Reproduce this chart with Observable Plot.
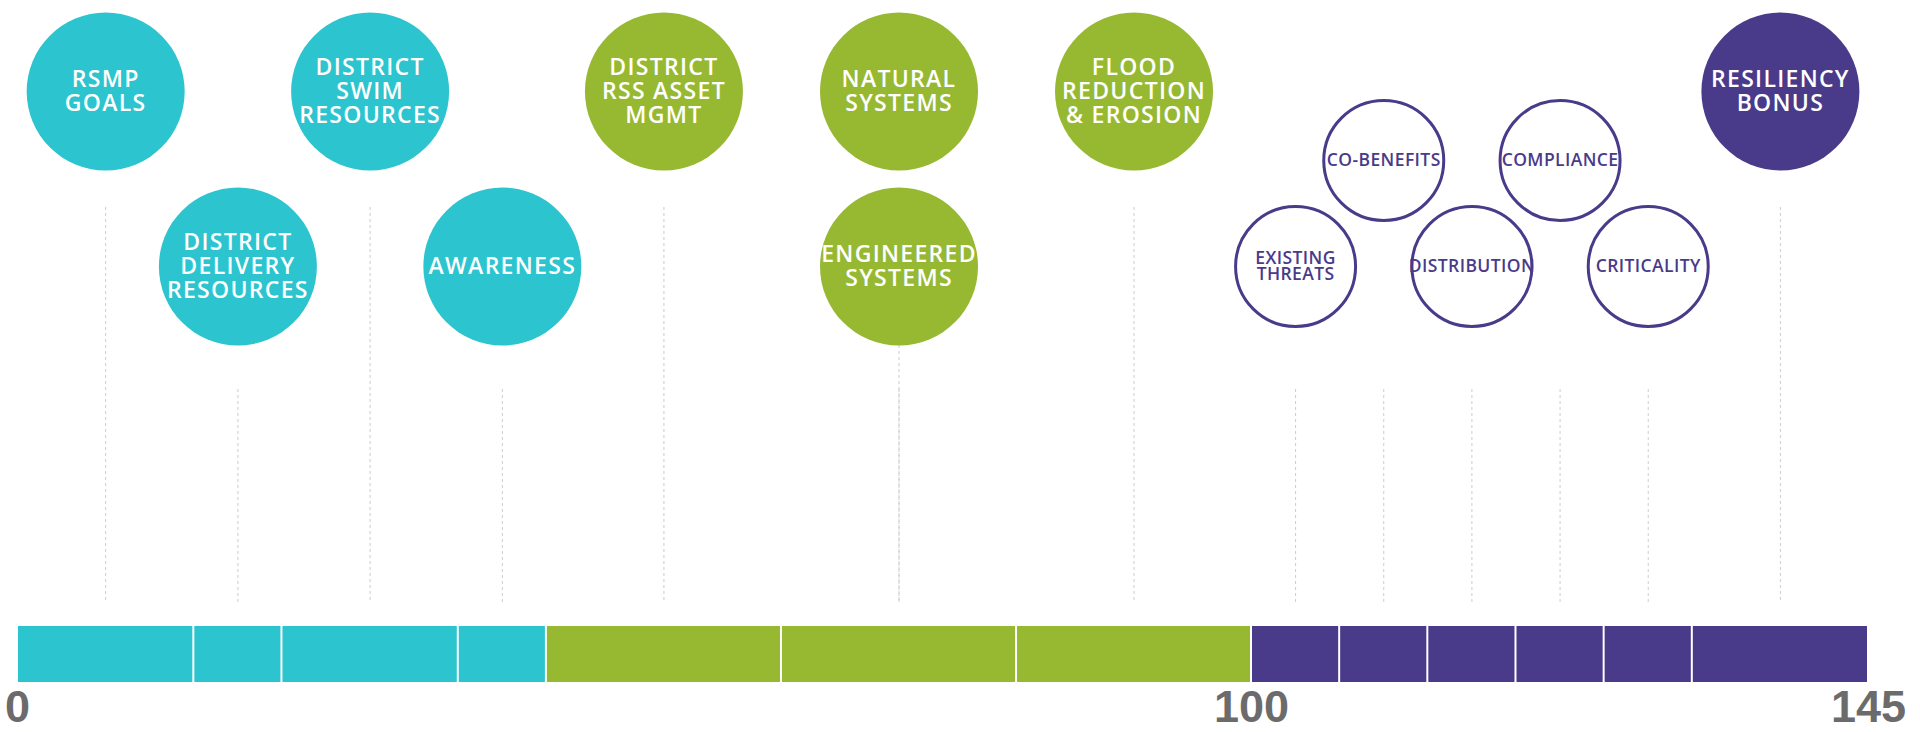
<!DOCTYPE html>
<html>
<head>
<meta charset="utf-8">
<script src="https://cdn.jsdelivr.net/npm/d3@7"></script>
<script src="https://cdn.jsdelivr.net/npm/@observablehq/plot@0.6"></script>
<style>
  html, body { margin: 0; padding: 0; background: #ffffff; }
  #chart svg { display: block; }
</style>
</head>
<body>
<div id="chart"></div>
<script>
// ---- data ----
const groups = ["Group A", "Group B", "Group C"];
const segmentGroup = ["Group A", "Group A", "Group A", "Group A",
  "Group B", "Group B", "Group B",
  "Group C", "Group C", "Group C", "Group C", "Group C", "Group C"];
const segmentPoints = [14.29, 7.14, 14.29, 7.14,
  19.05, 19.05, 19.04,
  6.43, 6.43, 6.43, 6.43, 6.43, 12.85];
const categories = [
  "RSMP\nGOALS", "DISTRICT\nDELIVERY\nRESOURCES", "DISTRICT\nSWIM\nRESOURCES", "AWARENESS",
  "DISTRICT\nRSS ASSET\nMGMT", "NATURAL\nSYSTEMS", "ENGINEERED\nSYSTEMS", "FLOOD\nREDUCTION\n& EROSION",
  "EXISTING\nTHREATS", "CO-BENEFITS", "DISTRIBUTION", "COMPLIANCE", "CRITICALITY", "RESILIENCY\nBONUS"
];
const categorySegment = [0, 1, 2, 3, 4, 5, 5, 6, 7, 8, 9, 10, 11, 12];
const categoryRow = ["upper", "lower", "upper", "lower", "upper", "upper", "lower", "upper",
  "lower", "middle", "lower", "middle", "lower", "upper"];
const categoryKind = ["component", "component", "component", "component", "component", "component", "component", "component",
  "factor", "factor", "factor", "factor", "factor", "component"];
const xTicks = [0, 100, 145];

// ---- build tables ----
let acc = 0;
const segments = segmentPoints.map((v, i) => {
  const s = {start: acc, end: acc + v, group: segmentGroup[i]};
  acc += v;
  return s;
});
const cats = categories.map((name, i) => {
  const seg = segments[categorySegment[i]];
  return {name, mid: (seg.start + seg.end) / 2, group: seg.group, row: categoryRow[i], kind: categoryKind[i]};
});

// ---- layout / style ----
const W = 1920, H = 732;
const palette = ["#2cc4ce", "#97b932", "#4a3a8a"];
const purple = "#4a3a8a";
const rowY = {upper: 91, middle: 160, lower: 266};
const R_MAIN = 79, R_FACTOR = 60;
const BAR_TOP = 626, BAR_BOTTOM = 682;
const STEM_END = 602;
const stemStart = d => d.row === "upper" ? 207 : 389;
const font = "'Open Sans', 'Noto Sans', sans-serif";

const main = cats.filter(d => d.kind === "component");
const factors = cats.filter(d => d.kind === "factor");

const chart = Plot.plot({
  width: W,
  height: H,
  marginTop: 0, marginLeft: 0, marginRight: 0, marginBottom: 42,
  x: {type: "linear", domain: [0, 100, 145], range: [17, 1251, 1868]},
  y: {type: "linear", domain: [0, 690], range: [0, 690], axis: null},
  color: {type: "ordinal", domain: groups, range: palette},
  style: {background: "#ffffff"},
  marks: [
    Plot.ruleX(cats, {x: "mid", y1: stemStart, y2: STEM_END, stroke: "#cccccc", strokeWidth: 1, strokeDasharray: "3,3"}),
    Plot.rectX(segments, {x1: "start", x2: "end", y1: BAR_TOP, y2: BAR_BOTTOM, fill: "group", insetLeft: 1, insetRight: 1}),
    Plot.dot(main, {x: "mid", y: d => rowY[d.row], r: R_MAIN, fill: "group", stroke: null}),
    Plot.dot(factors, {x: "mid", y: d => rowY[d.row], r: R_FACTOR, fill: "white", stroke: purple, strokeWidth: 3}),
    Plot.text(main, {x: "mid", y: d => rowY[d.row], text: "name", fill: "white", fontSize: 23, fontWeight: 600,
      lineHeight: 1.04, fontFamily: font}),
    Plot.text(factors, {x: "mid", y: d => rowY[d.row], text: "name", fill: purple, fontSize: 17.5, fontWeight: 600,
      lineHeight: 0.94, fontFamily: font}),
    Plot.axisX({ticks: xTicks, tickSize: 0, tickPadding: 0, tickFormat: d => String(d), label: null,
      fontSize: 45, fontWeight: "bold", fontFamily: "'Liberation Sans', Arial, sans-serif", color: "#6b6b6b"})
  ]
});
// letter spacing of the circle labels
d3.select(chart).selectAll("g[aria-label='text']").each(function() {
  const g = d3.select(this);
  const f = g.attr("fill");
  if (f === "white") g.attr("letter-spacing", 1.3);
  else if (f === purple) g.attr("letter-spacing", 0.4);
});
document.getElementById("chart").appendChild(chart);
</script>
</body>
</html>
